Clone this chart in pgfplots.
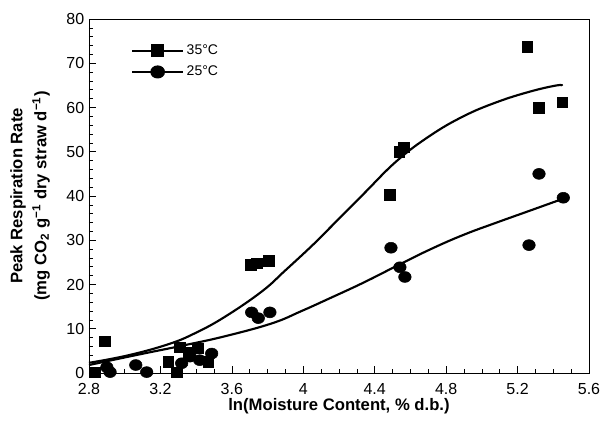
\documentclass[border=0pt]{standalone}
\usepackage{fontspec}
\setmainfont{Liberation Sans}
\usepackage{pgfplots}
\pgfplotsset{compat=1.18}

\begin{document}
\begin{tikzpicture}
\begin{axis}[
  scale only axis,
  width=375pt, height=265.5pt,
  xmin=2.8, xmax=5.6,
  ymin=0, ymax=80,
  xtick={2.8,3.2,3.6,4,4.4,4.8,5.2,5.6},
  xticklabels={2.8,3.2,3.6,4,4.4,4.8,5.2,5.6},
  ytick={0,10,...,80},
  minor x tick num=3,
  minor y tick num=4,
  tick align=inside,
  xtick pos=lower, ytick pos=left,
  major tick length=5pt, minor tick length=3pt,
  tick style={black, line width=0.5pt},
  axis line style={line width=0.6pt},
  /pgf/number format/assume math mode=true,
  tick label style={font=\fontsize{12}{14}\selectfont},
  xticklabel style={yshift=-4pt},
  xlabel={ln(Moisture Content, \% d.b.)},
  ylabel={Peak Respiration Rate\\(mg CO\textsubscript{2} g\textsuperscript{−1} dry straw d\textsuperscript{−1})},
  label style={font=\fontsize{12.5}{18}\selectfont\bfseries},
  xlabel style={at={(axis description cs:0.5,0)}, anchor=center, yshift=-25pt},
  ylabel style={align=center, at={(axis description cs:-0.118,0.5)}, anchor=center},
  legend style={draw=none, fill=none, inner sep=0pt, at={(0.084,0.935)}, anchor=north west,
    font=\fontsize{10.5}{12}\selectfont, row sep=3pt},
  legend cell align=left,
  legend image code/.code={
    \draw[#1, mark repeat=2, mark phase=2] plot coordinates {(0pt,0pt)(19pt,0pt)(38pt,0pt)};
  },
]

% 35 C measured
\addplot[only marks, mark=square*, mark size=4pt, black, forget plot]
coordinates {
(5.254,73.8)(5.32,60.0)(5.45,61.2)(4.537,50.0)(4.564,51.0)(4.485,40.3)
(3.707,24.4)(3.739,24.8)(3.806,25.4)(2.89,7.2)(2.834,0.2)(3.244,2.5)
(3.31,5.8)(3.29,0.2)(3.36,4.5)(3.41,5.6)(3.468,2.6)
};
% 25 C measured
\addplot[only marks, mark=*, mark size=4.1pt, mark options={xscale=1.15}, black, forget plot]
coordinates {
(5.32,45.0)(5.456,39.6)(5.264,28.9)(4.491,28.3)(4.541,23.9)(4.569,21.7)
(3.711,13.7)(3.748,12.4)(3.813,13.7)(2.9,1.3)(2.918,0.2)(3.062,1.8)
(3.123,0.2)(3.319,2.2)(3.366,3.7)(3.42,2.9)(3.487,4.4)
};

% 35 C fit
\addplot[black, line width=1.6pt, smooth, tension=0.7, mark=square*, mark size=4pt,
  mark repeat=100, mark phase=100]
coordinates {
(2.8,2.3)(3.02,4.0)(3.244,6.5)(3.394,9.0)(3.561,12.7)(3.767,18.4)(3.897,23.1)
(4.047,28.7)(4.149,32.8)(4.336,40.4)(4.523,47.9)(4.709,53.6)(4.896,58.0)
(5.083,61.2)(5.27,63.6)(5.42,65.0)(5.45,64.9)
};
\addlegendentry{35°C}
% 25 C fit
\addplot[black, line width=1.6pt, smooth, tension=0.7, mark=*, mark size=4.1pt, mark options={xscale=1.15},
  mark repeat=100, mark phase=100]
coordinates {
(2.8,1.8)(3.058,4.0)(3.337,6.3)(3.561,8.3)(3.823,11.2)(3.99,14.0)(4.149,16.9)
(4.336,20.4)(4.523,24.2)(4.709,27.9)(4.896,31.2)(5.083,34.0)(5.27,36.7)(5.456,39.4)
};
\addlegendentry{25°C}

\end{axis}
\pgfresetboundingbox
\path (current axis.south west) ++(-66.75pt,-37.5pt) rectangle ([xshift=15.75pt,yshift=14.25pt]current axis.north east);
\end{tikzpicture}
\end{document}
